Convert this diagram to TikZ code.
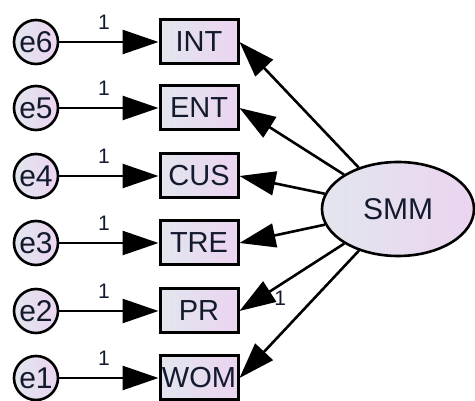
\documentclass[tikz,border=0pt]{standalone}
\usepackage{fontspec}
\setmainfont{Liberation Sans}
\usetikzlibrary{arrows.meta,positioning,shapes.geometric}
\definecolor{fillA}{HTML}{E2E6EE}
\definecolor{fillB}{HTML}{EBD4F0}
\definecolor{ink}{HTML}{141A2E}

\begin{document}
\begin{tikzpicture}[x=1pt,y=-1pt,
    err/.style={circle,draw,line width=2.6pt,minimum size=44pt,inner sep=0pt,
      left color=fillA,right color=fillB,text=ink,font=\fontsize{30}{32}\selectfont},
    obs/.style={rectangle,draw,line width=3pt,minimum width=78pt,minimum height=44pt,inner sep=0pt,
      left color=fillA,right color=fillB,text=ink,font=\fontsize{29}{31}\selectfont},
    lat/.style={ellipse,draw,line width=2.6pt,minimum width=152pt,minimum height=94pt,inner sep=0pt,
      left color=fillA,right color=fillB,text=ink,font=\fontsize{30}{32}\selectfont},
    link/.style={-{Triangle[length=36pt,width=24pt]},line width=2.6pt},
    wt/.style={text=ink,font=\fontsize{21}{23}\selectfont}
  ]
  \useasboundingbox (0,0) rectangle (475,401);

  % error terms and indicators
  \foreach \e/\v/\y in {6/INT/42,5/ENT/108,4/CUS/176,3/TRE/243,2/PR/311,1/WOM/378} {
    \node[err] (e\e) at (36,\y) {e\e};
    \node[obs] (o\e) at (199,\y) {\v};
    \draw[link] (e\e) -- node[wt,above=8pt,xshift=-5pt] {1} (o\e);
  }

  % latent factor
  \node[lat] (smm) at (398,209) {SMM};
  \foreach \e in {6,5,4,3,1}
    \draw[link] (smm) -- (o\e.east);
  \draw[link] (smm) -- node[wt,pos=0.68,anchor=north west,inner sep=0pt] {1} (o2.east);
\end{tikzpicture}
\end{document}
